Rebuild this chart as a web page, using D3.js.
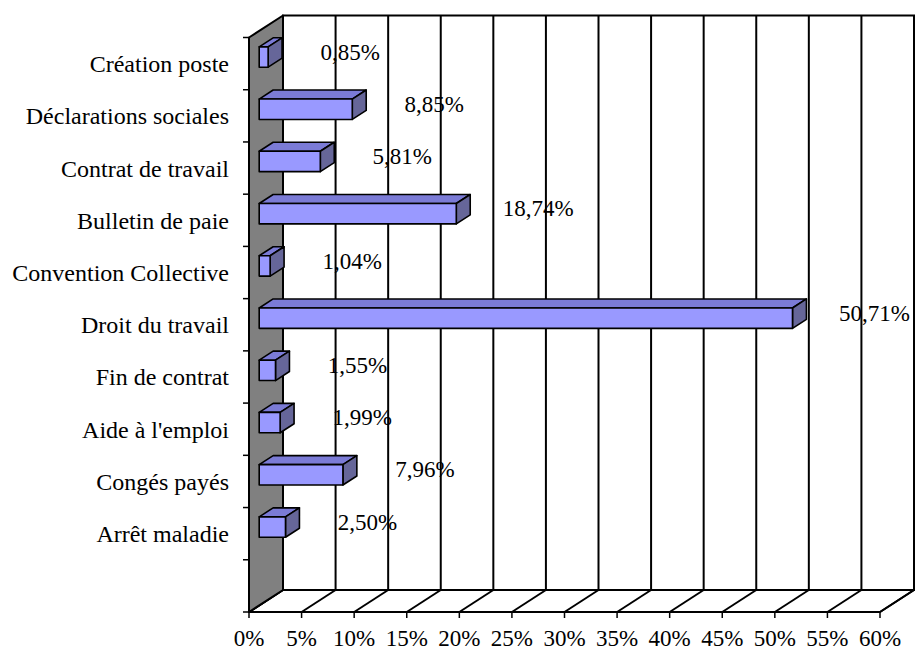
<!DOCTYPE html>
<html>
<head>
<meta charset="utf-8">
<script src="https://cdn.jsdelivr.net/npm/d3@7"></script>
<style>
  body { margin: 0; background: #fff; }
  text { font-family: "Liberation Serif", "Times New Roman", serif; fill: #000; }
</style>
</head>
<body>
<svg id="chart" width="917" height="650"></svg>
<script>
// data
const categories = ["Création poste", "Déclarations sociales", "Contrat de travail", "Bulletin de paie",
  "Convention Collective", "Droit du travail", "Fin de contrat", "Aide à l'emploi", "Congés payés", "Arrêt maladie"];
const values = [0.85, 8.85, 5.81, 18.74, 1.04, 50.71, 1.55, 1.99, 7.96, 2.50];
const xTicks = [0, 5, 10, 15, 20, 25, 30, 35, 40, 45, 50, 55, 60];

const svg = d3.select("#chart");

const fr = d3.formatLocale({ decimal: ",", thousands: " ", grouping: [3], currency: ["", " €"] });
const fmt = fr.format(".2f");

// front plane scales, depth offset for the back plane
const x = d3.scaleLinear().domain([0, 60]).range([249, 880]);
// one empty slot at the bottom, like the original
const slots = d3.range(categories.length + 1);
const y = d3.scaleBand().domain(slots).range([37.5, 612]);
const DX = 34, DY = -22;
const barFront = 0.3, barBack = 0.71;
const barH = y.bandwidth() * 0.39;

const x0 = x.range()[0], x1 = x.range()[1];
const yTop = y.range()[0], yBot = y.range()[1];

// back wall
svg.append("rect")
  .attr("x", x0 + DX).attr("y", yTop + DY)
  .attr("width", x1 - x0).attr("height", yBot - yTop)
  .attr("fill", "#fff").attr("stroke", "#000").attr("stroke-width", 2);

svg.selectAll(".grid")
  .data(xTicks)
  .enter().append("line")
  .attr("class", "grid")
  .attr("x1", d => x(d) + DX).attr("x2", d => x(d) + DX)
  .attr("y1", yTop + DY).attr("y2", yBot + DY)
  .attr("stroke", "#000").attr("stroke-width", 2);

// floor
svg.append("polygon")
  .attr("points", [[x0, yBot], [x0 + DX, yBot + DY], [x1 + DX, yBot + DY], [x1, yBot]].join(" "))
  .attr("fill", "#fff").attr("stroke", "#000").attr("stroke-width", 2)
  .attr("stroke-linejoin", "round");

svg.selectAll(".floor")
  .data(xTicks)
  .enter().append("line")
  .attr("class", "floor")
  .attr("x1", d => x(d)).attr("x2", d => x(d) + DX)
  .attr("y1", yBot).attr("y2", yBot + DY)
  .attr("stroke", "#000").attr("stroke-width", 2);

// left wall
svg.append("polygon")
  .attr("points", [[x0, yTop], [x0 + DX, yTop + DY], [x0 + DX, yBot + DY], [x0, yBot]].join(" "))
  .attr("fill", "#808080").attr("stroke", "#000").attr("stroke-width", 2)
  .attr("stroke-linejoin", "round");

// bars
const bars = svg.selectAll(".bar")
  .data(values)
  .enter().append("g")
  .attr("class", "bar");

function corner(v, i, f, top) {
  const cy = y(i) + y.bandwidth() / 2 + f * DY + (top ? -barH / 2 : barH / 2);
  return [x(v) + f * DX, cy];
}

// top face
bars.append("polygon")
  .attr("points", (d, i) => [corner(0, i, barFront, true), corner(0, i, barBack, true),
    corner(d, i, barBack, true), corner(d, i, barFront, true)].join(" "))
  .attr("fill", "#7b7bd6").attr("stroke", "#000").attr("stroke-width", 1.6)
  .attr("stroke-linejoin", "round");

// side face
bars.append("polygon")
  .attr("points", (d, i) => [corner(d, i, barFront, true), corner(d, i, barBack, true),
    corner(d, i, barBack, false), corner(d, i, barFront, false)].join(" "))
  .attr("fill", "#666699").attr("stroke", "#000").attr("stroke-width", 1.6)
  .attr("stroke-linejoin", "round");

// front face
bars.append("polygon")
  .attr("points", (d, i) => [corner(0, i, barFront, true), corner(d, i, barFront, true),
    corner(d, i, barFront, false), corner(0, i, barFront, false)].join(" "))
  .attr("fill", "#9999ff").attr("stroke", "#000").attr("stroke-width", 1.6)
  .attr("stroke-linejoin", "round");

// data labels
svg.selectAll(".dlabel")
  .data(values)
  .enter().append("text")
  .attr("class", "dlabel")
  .attr("x", d => x(d) + barFront * DX + 82)
  .attr("y", (d, i) => y(i) + y.bandwidth() / 2 - 4)
  .attr("text-anchor", "middle")
  .style("font-size", "23px")
  .text(d => fmt(d) + "%");

// category axis (front left edge)
svg.selectAll(".ytick")
  .data(d3.range(slots.length + 1))
  .enter().append("line")
  .attr("class", "ytick")
  .attr("x1", x0 - 6).attr("x2", x0)
  .attr("y1", d => yTop + d * y.step()).attr("y2", d => yTop + d * y.step())
  .attr("stroke", "#000").attr("stroke-width", 1.5);

svg.selectAll(".ylabel")
  .data(categories)
  .enter().append("text")
  .attr("class", "ylabel")
  .attr("x", 229)
  .attr("y", (d, i) => y(i) + y.bandwidth() / 2 + 8.5)
  .attr("text-anchor", "end")
  .style("font-size", "24px")
  .text(d => d);

// value axis (front floor edge)
svg.selectAll(".xtick")
  .data(xTicks)
  .enter().append("line")
  .attr("class", "xtick")
  .attr("x1", d => x(d)).attr("x2", d => x(d))
  .attr("y1", yBot).attr("y2", yBot + 6)
  .attr("stroke", "#000").attr("stroke-width", 1.5);

svg.selectAll(".xlabel")
  .data(xTicks)
  .enter().append("text")
  .attr("class", "xlabel")
  .attr("x", d => x(d))
  .attr("y", 646)
  .attr("text-anchor", "middle")
  .style("font-size", "23px")
  .text(d => d + "%");
</script>
</body>
</html>
